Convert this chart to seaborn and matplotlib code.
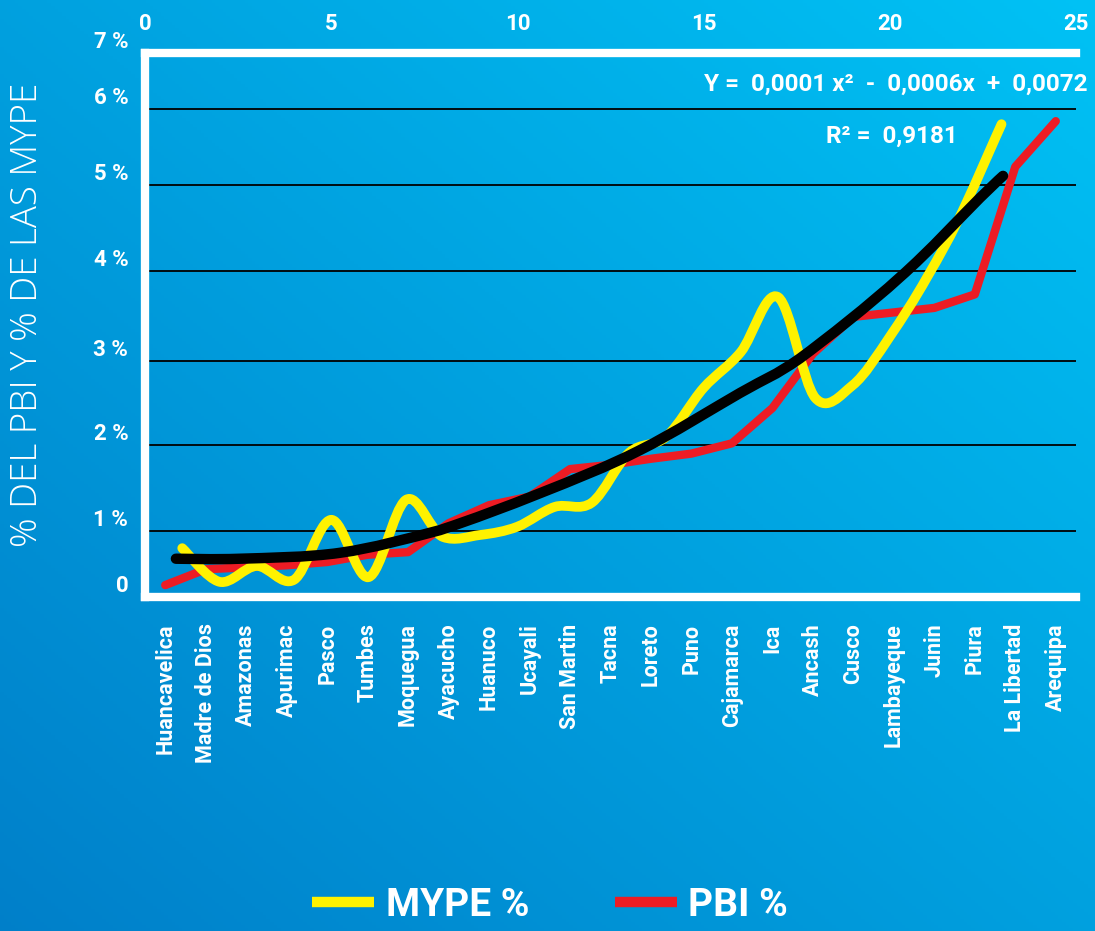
import numpy as np
import matplotlib
matplotlib.use("Agg")
import matplotlib.pyplot as plt
import seaborn as sns
import pandas as pd
from matplotlib.path import Path
from matplotlib.patches import PathPatch
from matplotlib.lines import Line2D

# ---------------- data ----------------
regions = ["Huancavelica", "Madre de Dios", "Amazonas", "Apurimac", "Pasco", "Tumbes",
           "Moquegua", "Ayacucho", "Huanuco", "Ucayali", "San Martin", "Tacna", "Loreto",
           "Puno", "Cajamarca", "Ica", "Ancash", "Cusco", "Lambayeque", "Junin", "Piura",
           "La Libertad", "Arequipa"]
pbi_pct = [0.18, 0.42, 0.45, 0.48, 0.53, 0.64, 0.68, 1.09, 1.30, 1.40, 1.72, 1.77, 1.84,
           1.90, 2.02, 2.44, 3.08, 3.49, 3.54, 3.59, 3.74, 5.24, 5.84]

mype_x = [1, 2, 3, 4, 5, 6, 7, 8, 9, 10, 11, 12, 13, 14, 15, 16, 17, 18, 19, 20, 21, 22, 23]
mype_pct = [0.74, 0.23, 0.47, 0.26, 1.13, 0.30, 1.36, 0.91, 0.94, 1.05, 1.28, 1.33, 1.91,
            2.10, 2.68, 3.10, 3.71, 2.56, 2.71, 3.27, 3.93, 4.74, 5.80]

trend_x = [0.83, 2.55, 5.24, 7.92, 10.61, 13.29, 15.98, 17.59, 20.27, 22.42, 23.04]
trend_pct = [0.58, 0.58, 0.67, 1.01, 1.44, 1.94, 2.62, 3.03, 3.93, 4.85, 5.12]

y_ticks = [0, 1, 2, 3, 4, 5, 6, 7]
y_ticklabels = ["0", "1 %", "2 %", "3 %", "4 %", "5 %", "6 %", "7 %"]
top_ticks = [0, 5, 10, 15, 20, 25]
equation = "Y =  0,0001 x\u00b2  -  0,0006x  +  0,0072"
r2_text = "R\u00b2 =  0,9181"
y_title = "% DEL PBI Y % DE LAS MYPE"
legend_labels = ["MYPE %", "PBI %"]

# ---------------- style ----------------
W, H = 1095, 931
YELLOW = "#FFF200"
RED = "#ED1C24"
sns.set_theme(style="white")
plt.rcParams["font.family"] = ["Roboto", "DejaVu Sans"]

fig = plt.figure(figsize=(W / 100, H / 100), dpi=100)

# gradient background
bg = fig.add_axes([0, 0, 1, 1], zorder=-10)
gx, gy = np.meshgrid(np.linspace(0, 1, 300), np.linspace(1, 0, 300))
t = (gx + gy) / 2.0
c_bl = np.array([0.00, 0.50, 0.79])
c_tr = np.array([0.00, 0.76, 0.96])
img = c_bl[None, None, :] * (1 - t[..., None]) + c_tr[None, None, :] * t[..., None]
bg.imshow(img, aspect="auto", extent=[0, 1, 0, 1], origin="upper")
bg.set_axis_off()

# main axes (pixel frame: left 145, right 1076, top 53, bottom 597)
L, R, T, B = 145, 1076, 53, 597
ax = fig.add_axes([L / W, 1 - B / H, (R - L) / W, (B - T) / H])
ax.set_facecolor("none")

# piecewise value axis matching the original gridline spacing
YP = [0, 66, 152, 236, 326, 412, 488, 544]
def fwd(v):
    return np.interp(v, y_ticks, YP)
def inv(p):
    return np.interp(p, YP, y_ticks)
ax.set_yscale("function", functions=(fwd, inv))
ax.set_ylim(0, 7)
ax.set_xlim(-0.5, len(regions) - 0.5)

# red PBI line on category axis
df_pbi = pd.DataFrame({"i": np.arange(len(regions)), "v": pbi_pct})
sns.lineplot(data=df_pbi, x="i", y="v", ax=ax, color=RED, lw=6,
             solid_capstyle="round", solid_joinstyle="round", zorder=3)
ax.set_xlabel("")
ax.set_ylabel("")

ax.set_xticks(range(len(regions)))
ax.set_xticklabels(regions, rotation=90, ha="center", va="top",
                   color="white", fontsize=15.5, fontweight="bold")
ax.set_yticks(y_ticks)
ax.set_yticklabels(y_ticklabels, color="white", fontsize=16, fontweight="bold", va="bottom")
ax.tick_params(axis="x", length=0, pad=19)
ax.tick_params(axis="y", length=0, pad=12)

ax.grid(False)
ax.yaxis.grid(True, color="black", lw=1.3)
for s in ["left", "top", "bottom"]:
    ax.spines[s].set_color("white")
    ax.spines[s].set_linewidth(6)
ax.spines["right"].set_visible(False)

# secondary top axis (0..25) for MYPE and trend
ax2 = ax.twiny()
ax2.set_facecolor("none")
ax2.set_xlim(0, 25)
ax2.set_xticks(top_ticks)
ax2.set_xticklabels([str(v) for v in top_ticks], color="white", fontsize=16, fontweight="bold")
ax2.tick_params(axis="x", length=0, pad=13)
for s in ax2.spines.values():
    s.set_visible(False)
ax2.grid(False)


def smooth_path(xs, ys):
    xs = np.asarray(xs, float)
    ys = np.asarray(ys, float)
    P = np.column_stack([xs, ys])
    n = len(P)
    verts = [P[0]]
    codes = [Path.MOVETO]
    for i in range(n - 1):
        p0 = P[i - 1] if i > 0 else P[i]
        p1 = P[i]
        p2 = P[i + 1]
        p3 = P[i + 2] if i + 2 < n else P[i + 1]
        c1 = p1 + (p2 - p0) / 6.0
        c2 = p2 - (p3 - p1) / 6.0
        verts += [c1, c2, p2]
        codes += [Path.CURVE4] * 3
    return Path(verts, codes)


ax2.add_patch(PathPatch(smooth_path(mype_x, mype_pct), facecolor="none", edgecolor=YELLOW,
                        lw=7, capstyle="round", joinstyle="round", zorder=4))
ax2.add_patch(PathPatch(smooth_path(trend_x, trend_pct), facecolor="none", edgecolor="black",
                        lw=7.5, capstyle="round", joinstyle="round", zorder=5))
ax2.set_ylim(0, 7)

# equation texts
fig.text(1087 / W, 1 - 84 / H, equation, ha="right", va="center", color="white",
         fontsize=17.5, fontweight="bold")
fig.text(958 / W, 1 - 136 / H, r2_text, ha="right", va="center", color="white",
         fontsize=17.5, fontweight="bold")

# y title
fig.text(28 / W, 1 - 315 / H, y_title, rotation=90, ha="center", va="center",
         color="white", fontsize=26.5, fontweight="light", family=["Open Sans", "DejaVu Sans"])

# legend
handles = [Line2D([], [], color=YELLOW, lw=7.5, solid_capstyle="butt"),
           Line2D([], [], color=RED, lw=7.5, solid_capstyle="butt")]
fig.legend(handles, legend_labels, loc="center", bbox_to_anchor=(550 / W, 1 - 905 / H),
           ncol=2, frameon=False, prop={"weight": "bold", "size": 28},
           labelcolor="white", handlelength=1.6, handletextpad=0.3, columnspacing=2.2)

fig.savefig("out.png", dpi=100)
